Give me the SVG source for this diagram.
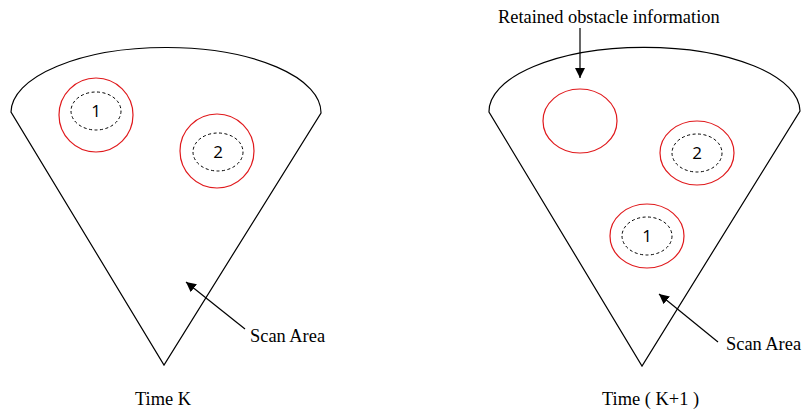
<svg xmlns="http://www.w3.org/2000/svg" width="805" height="415" viewBox="0 0 805 415">
<defs>
<marker id="ah" viewBox="0 0 10 10" refX="10" refY="5" markerWidth="10" markerHeight="10" markerUnits="userSpaceOnUse" orient="auto">
<path d="M0,0 L10,5 L0,10 Z" fill="#000"/>
</marker>
<style>
.sector{fill:none;stroke:#000;stroke-width:1.2}
.red{fill:none;stroke:#e0191c;stroke-width:1.2}
.dash{fill:none;stroke:#000;stroke-width:1;stroke-dasharray:3 2.5}
.num{font-family:"Open Sans","Noto Sans",sans-serif;font-size:17px;text-anchor:middle;fill:#000}
.lbl{font-family:"Liberation Serif","Times New Roman",serif;font-size:18.4px;fill:#000}
.conn{stroke:#000;stroke-width:1.2;fill:none}
</style>
</defs>
<rect width="805" height="415" fill="#fff"/>
<g id="scan-left">
<path class="sector" d="M11,112 A155,65 0 0 1 321,113 L164,365 Z"/>
</g>
<g id="scan-right">
<path class="sector" d="M489,112 A155,64 0 0 1 800,111 L642,366 Z"/>
</g>
<g id="obstacle-1-k">
<circle class="red" cx="96" cy="115" r="37"/>
<ellipse class="dash" cx="96" cy="111" rx="25" ry="19"/>
<text class="num" x="96" y="117">1</text>
</g>
<g id="obstacle-2-k">
<circle class="red" cx="217" cy="151" r="37"/>
<ellipse class="dash" cx="218" cy="152" rx="25" ry="19"/>
<text class="num" x="218" y="158">2</text>
</g>
<g id="retained">
<ellipse class="red" cx="580" cy="121" rx="37" ry="32"/>
</g>
<g id="obstacle-2-k1">
<ellipse class="red" cx="697" cy="153" rx="37" ry="32"/>
<ellipse class="dash" cx="697" cy="153" rx="25" ry="19"/>
<text class="num" x="697" y="159">2</text>
</g>
<g id="obstacle-1-k1">
<ellipse class="red" cx="647" cy="236" rx="37" ry="32"/>
<ellipse class="dash" cx="647" cy="236" rx="25" ry="19"/>
<text class="num" x="647" y="242">1</text>
</g>
<g id="labels">
<text class="lbl" x="498" y="23">Retained obstacle information</text>
<text class="lbl" x="250" y="342">Scan Area</text>
<text class="lbl" x="726" y="350">Scan Area</text>
<text class="lbl" x="135" y="405">Time K</text>
<text class="lbl" x="602" y="405">Time ( K+1 )</text>
</g>
<g id="connectors">
<line class="conn" x1="580" y1="28" x2="580" y2="78" marker-end="url(#ah)"/>
<line class="conn" x1="245" y1="329" x2="186" y2="282" marker-end="url(#ah)"/>
<line class="conn" x1="718" y1="342" x2="659" y2="294" marker-end="url(#ah)"/>
</g>
</svg>
